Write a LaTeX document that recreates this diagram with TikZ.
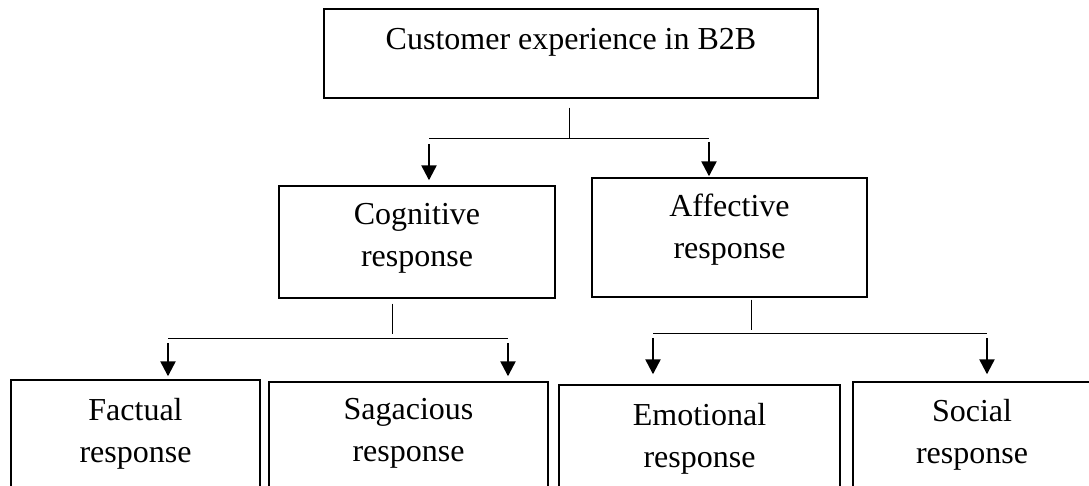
\documentclass[tikz,border=0pt]{standalone}
\usepackage{fontspec}
\setmainfont{Liberation Serif}
\usetikzlibrary{arrows.meta}
\begin{document}
\begin{tikzpicture}[x=0.5pt,y=-0.5pt,
  box/.style={draw,line width=0.7pt,align=center,inner sep=0pt,
    font=\fontsize{16}{21}\selectfont,text height=40pt},
  link/.style={line width=0.5pt},
  arr/.style={line width=1.2pt,-{Triangle[width=7.5pt,length=7.5pt]}}]
\useasboundingbox (0,0) rectangle (1089,486);
\node[box,minimum width=247pt,minimum height=44.5pt,text height=11pt,text depth=14.5pt] (cx) at (571,53.5) {Customer experience in B2B};
\node[box,minimum width=138pt,minimum height=56pt,text depth=15pt] (cog) at (417,242) {Cognitive\\response};
\node[box,minimum width=137.5pt,minimum height=59.5pt,text depth=18.5pt] (aff) at (729.5,237.5) {Affective\\response};
\node[box,minimum width=124.5pt,minimum height=60pt,text depth=17pt] (fac) at (135.5,440) {Factual\\response};
\node[box,minimum width=139.5pt,minimum height=58.5pt,text depth=19.5pt] (sag) at (408.5,441.5) {Sagacious\\response};
\node[box,minimum width=140.5pt,minimum height=57.5pt,text depth=14.5pt] (emo) at (699.5,442.5) {Emotional\\response};
\node[box,minimum width=119pt,minimum height=59pt,text depth=17pt] (soc) at (972,441) {Social\\response};
\coordinate (cxj) at (569,139);
\coordinate (cxl) at (429,139);
\coordinate (cxr) at (709,139);
\coordinate (cgj) at (392,339);
\coordinate (cgl) at (168,339);
\coordinate (cgr) at (508,339);
\coordinate (afj) at (751,334);
\coordinate (afl) at (653,334);
\coordinate (afr) at (987,334);
\draw[link] (cx.south -| cxj) ++(0,9) -- (cxj);
\draw[link] (cxl) -- (cxr);
\draw[arr] (cxl) ++(0,5) -- ([yshift=2.5pt]cog.north -| cxl);
\draw[arr] (cxr) ++(0,3) -- ([yshift=0.5pt]aff.north -| cxr);
\draw[link] (cog.south -| cgj) ++(0,5) -- ++(0,30);
\draw[link] (cgl) -- (cgr);
\draw[arr] (cgl) ++(0,4) -- ([yshift=1.5pt]fac.north -| cgl);
\draw[arr] (cgr) ++(0,4) -- ([yshift=2.5pt]sag.north -| cgr);
\draw[link] (aff.south -| afj) ++(0,2) -- ++(0,30);
\draw[link] (afl) -- (afr);
\draw[arr] (afl) ++(0,4) -- ([yshift=5pt]emo.north -| afl);
\draw[arr] (afr) ++(0,4) -- ([yshift=3.5pt]soc.north -| afr);
\end{tikzpicture}
\end{document}
